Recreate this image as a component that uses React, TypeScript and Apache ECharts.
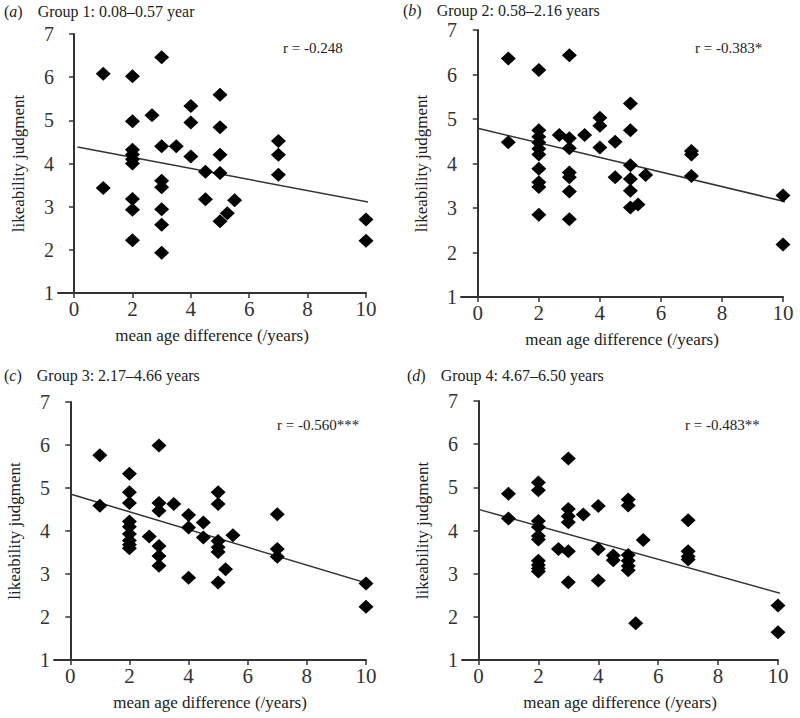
import React, { useEffect, useRef } from "react";
import * as echarts from "echarts";

const xTicks = [0, 2, 4, 6, 8, 10];
const panelLetters = ["a", "b", "c", "d"];
const panelTitles = [
  "Group 1: 0.08–0.57 year",
  "Group 2: 0.58–2.16 years",
  "Group 3: 2.17–4.66 years",
  "Group 4: 4.67–6.50 years",
];
const rLabels = ["r = -0.248", "r = -0.383*", "r = -0.560***", "r = -0.483**"];

const group1Points = [
  [1, 6.08], [1, 3.43],
  [2, 6.02], [2, 4.98], [2, 4.32], [2, 4.21], [2, 4.1], [2, 4.0], [2, 3.18], [2, 2.93], [2, 2.22],
  [2.67, 5.12],
  [3, 6.46], [3, 4.4], [3, 3.6], [3, 3.45], [3, 2.94], [3, 2.58], [3, 1.93],
  [3.5, 4.4],
  [4, 5.33], [4, 4.95], [4, 4.16],
  [4.5, 3.81], [4.5, 3.17],
  [5, 5.59], [5, 4.84], [5, 4.2], [5, 3.78], [5, 2.66],
  [5.25, 2.85], [5.5, 3.15],
  [7, 4.52], [7, 4.2], [7, 3.74],
  [10, 2.7], [10, 2.21],
];
const group2Points = [
  [1, 6.36], [1, 4.48],
  [2, 6.1], [2, 4.75], [2, 4.6], [2, 4.47], [2, 4.33], [2, 4.2], [2, 3.88], [2, 3.58], [2, 3.47], [2, 2.85],
  [2.67, 4.64],
  [3, 6.43], [3, 4.57], [3, 4.34], [3, 3.8], [3, 3.69], [3, 3.37], [3, 2.75],
  [3.5, 4.64],
  [4, 5.03], [4, 4.85], [4, 4.36],
  [4.5, 4.49], [4.5, 3.69],
  [5, 5.35], [5, 4.75], [5, 3.96], [5, 3.65], [5, 3.39], [5, 3.01],
  [5.25, 3.08], [5.5, 3.74],
  [7, 4.28], [7, 4.2], [7, 3.72],
  [10, 3.28], [10, 2.18],
];
const group3Points = [
  [1, 5.76], [1, 4.59],
  [2, 5.33], [2, 4.9], [2, 4.65], [2, 4.22], [2, 4.1], [2, 3.93], [2, 3.78], [2, 3.68], [2, 3.6],
  [2.67, 3.87],
  [3, 5.99], [3, 4.65], [3, 4.47], [3, 3.65], [3, 3.42], [3, 3.19],
  [3.5, 4.63],
  [4, 4.37], [4, 4.08], [4, 2.91],
  [4.5, 4.2], [4.5, 3.85],
  [5, 4.9], [5, 4.63], [5, 3.77], [5, 3.62], [5, 3.51], [5, 2.8],
  [5.25, 3.11], [5.5, 3.9],
  [7, 4.39], [7, 3.58], [7, 3.4],
  [10, 2.78], [10, 2.24],
];
const group4Points = [
  [1, 4.85], [1, 4.28],
  [2, 5.11], [2, 4.93], [2, 4.22], [2, 4.08], [2, 3.87], [2, 3.79], [2, 3.3], [2, 3.2], [2, 3.12], [2, 3.05],
  [2.67, 3.57],
  [3, 5.67], [3, 4.5], [3, 4.33], [3, 4.19], [3, 3.52], [3, 2.8],
  [3.5, 4.37],
  [4, 4.57], [4, 3.57], [4, 2.84],
  [4.5, 3.42], [4.5, 3.31],
  [5, 4.72], [5, 4.58], [5, 3.43], [5, 3.3], [5, 3.18], [5, 3.08],
  [5.25, 1.85], [5.5, 3.78],
  [7, 4.24], [7, 3.52], [7, 3.4], [7, 3.33],
  [10, 2.26], [10, 1.64],
];
const fit1 = [[0.12, 4.38], [10.36, 3.07]];
const fit2 = [[0, 4.79], [10.45, 3.08]];
const fit3 = [[0, 4.86], [10.45, 2.7]];
const fit4 = [[0, 4.49], [10.46, 2.47]];

const allPoints = [group1Points, group2Points, group3Points, group4Points];
const allFits = [fit1, fit2, fit3, fit4];

// layout only
const grids = [
  { left: 58, top: 34, width: 308, height: 259 },
  { left: 461, top: 30, width: 322, height: 267 },
  { left: 54, top: 402, width: 312, height: 258 },
  { left: 462, top: 401, width: 316, height: 259 },
];
const titlePos = [
  { left: 4, top: 2 },
  { left: 403, top: 1 },
  { left: 4, top: 366 },
  { left: 407, top: 366 },
];
const rPos = [
  { left: 278, top: 35 },
  { left: 690, top: 35 },
  { left: 272, top: 412 },
  { left: 680, top: 412 },
];

const FONT = "'Liberation Serif', 'Times New Roman', serif";
const AX = "#333";

export default function App() {
  const ref = useRef<HTMLDivElement>(null);
  useEffect(() => {
    if (!ref.current) return;
    const chart = echarts.init(ref.current, null, { renderer: "svg" });
    const titles: any[] = [];
    panelLetters.forEach((l, i) => {
      titles.push({
        text: `{n|(}{i|${l}}{n|)}   {n|${panelTitles[i]}}`,
        left: titlePos[i].left,
        top: titlePos[i].top,
        padding: 0,
        textStyle: {
          fontWeight: "normal",
          rich: {
            n: { fontFamily: FONT, fontSize: 16, lineHeight: 16, color: "#222", fontWeight: "normal" },
            i: { fontFamily: FONT, fontSize: 16, lineHeight: 16, color: "#222", fontStyle: "italic", fontWeight: "normal" },
          },
        },
      });
      titles.push({
        text: rLabels[i],
        left: rPos[i].left,
        top: rPos[i].top,
        textStyle: { fontFamily: FONT, fontSize: 15, color: "#222", fontWeight: "normal" },
      });
    });
    const option: any = {
      animation: false,
      backgroundColor: "#fff",
      title: titles,
      grid: grids.map((g) => ({ ...g, containLabel: false })),
      xAxis: grids.map((_, i) => ({
        type: "value",
        gridIndex: i,
        min: -0.55,
        max: 10,
        name: "mean age difference (/years)",
        nameLocation: "middle",
        nameGap: 34,
        nameTextStyle: { fontFamily: FONT, fontSize: 17, color: "#222" },
        axisLine: { show: true, onZero: false, lineStyle: { color: AX, width: 2 } },
        axisTick: { show: true, customValues: xTicks, length: 5, lineStyle: { color: AX, width: 1.5 } },
        axisLabel: { customValues: xTicks, fontFamily: FONT, fontSize: 21, color: "#333", margin: 5 },
        splitLine: { show: false },
      })),
      yAxis: grids.map((_, i) => ({
        type: "value",
        gridIndex: i,
        min: 1,
        max: 7,
        interval: 1,
        name: "likeability judgment",
        nameLocation: "middle",
        nameGap: 31,
        nameTextStyle: { fontFamily: FONT, fontSize: 17, color: "#222" },
        axisLine: { show: true, lineStyle: { color: AX, width: 2 } },
        axisTick: { show: true, length: 5, lineStyle: { color: AX, width: 1.5 } },
        axisLabel: { fontFamily: FONT, fontSize: 20, lineHeight: 16, color: "#333", margin: 4 },
        splitLine: { show: false },
      })),
      series: [
        ...allPoints.map((pts, i) => ({
          type: "scatter",
          xAxisIndex: i,
          yAxisIndex: i,
          data: pts,
          symbol: "diamond",
          symbolSize: [15, 14],
          itemStyle: { color: "#000", opacity: 1 },
          z: 3,
        })),
        ...allFits.map((f, i) => ({
          type: "line",
          xAxisIndex: i,
          yAxisIndex: i,
          data: f,
          showSymbol: false,
          clip: false,
          lineStyle: { color: "#333", width: 1.5 },
          z: 2,
        })),
      ],
    };
    chart.setOption(option);
    return () => chart.dispose();
  }, []);
  return (
    <div
      ref={ref}
      style={{ position: "fixed", left: 0, top: 0, width: 800, height: 718, background: "#fff" }}
    />
  );
}
